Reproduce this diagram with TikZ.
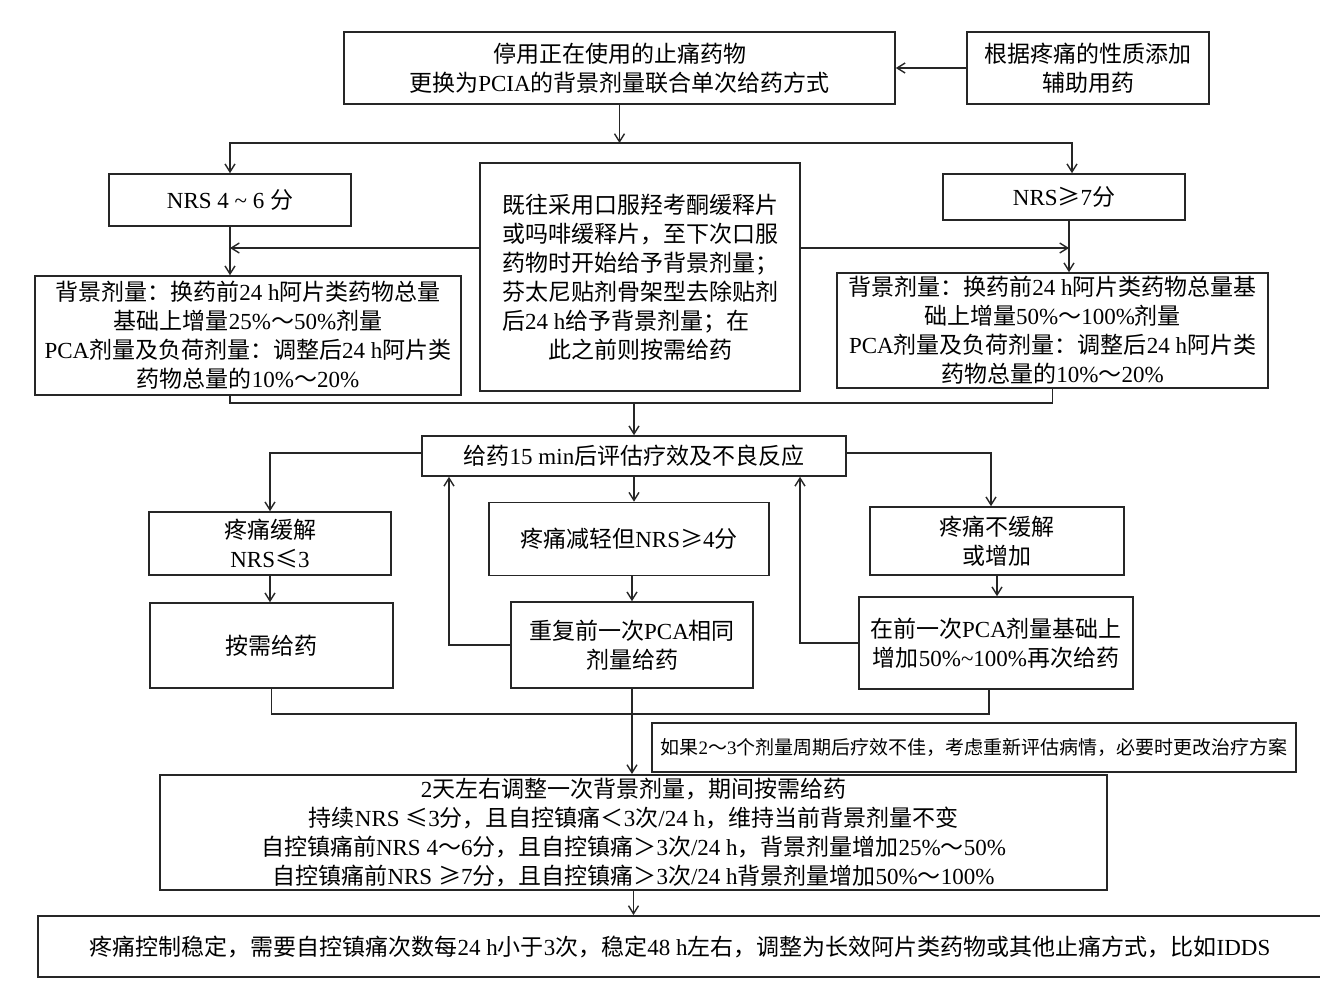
\documentclass[tikz,border=0pt]{standalone}
\usepackage{fontspec}
\setmainfont{Liberation Serif}
\newfontfamily\cjkfont{Noto Sans CJK SC}
\usetikzlibrary{arrows.meta}
\XeTeXinterchartokenstate=1
\newXeTeXintercharclass\CJKcls
\newcount\cccount
\def\setcjkrange#1#2{\cccount=#1\relax\loop\XeTeXcharclass\cccount=\CJKcls\relax\advance\cccount by 1\relax\ifnum\cccount<#2\relax\repeat}
\setcjkrange{"4E00}{"A000}
\setcjkrange{"3000}{"3040}
\setcjkrange{"FF00}{"FFF0}
\setcjkrange{"2264}{"2266}
\XeTeXinterchartoks 0 \CJKcls={\cjkfont}
\XeTeXinterchartoks 4095 \CJKcls={\cjkfont}
\XeTeXinterchartoks \CJKcls 0={\rmfamily}
\XeTeXinterchartoks 4095 0={\rmfamily}
\tikzset{
  every node/.style={font=\fontsize{11.5}{14.5}\selectfont},
  box/.style 2 args={draw=black!85, line width=0.8pt, minimum width=#1*0.5pt, minimum height=#2*0.5pt, inner sep=0pt, align=center},
  ln/.style={draw=black!85, line width=0.7pt},
  arr/.style={ln, -{Straight Barb[length=4pt,width=5pt]}},
}
\begin{document}
\begin{tikzpicture}[x=0.5pt,y=-0.5pt]
\fill[white] (0,0) rectangle (1320,1003);
\useasboundingbox (0,0) rectangle (1320,1003);

\node[box={551}{72}] (A) at (619.5,68) {停用正在使用的止痛药物\\更换为PCIA的背景剂量联合单次给药方式};
\node[box={242}{72}] (B) at (1088,68) {根据疼痛的性质添加\\辅助用药};
\node[box={242}{52}] (n46) at (230,200) {NRS 4 \textasciitilde\ 6 分};
\node[box={242}{46}] (n7) at (1064,197) {NRS≥7分};
\node[box={320}{228}, align=left] (C) at (640,277) {既往采用口服羟考酮缓释片\\或吗啡缓释片，至下次口服\\药物时开始给予背景剂量；\\芬太尼贴剂骨架型去除贴剂\\后24 h给予背景剂量；在\\\hspace*{2em}此之前则按需给药};
\node[box={426}{119}] (D) at (248,335.5) {背景剂量：换药前24 h阿片类药物总量\\基础上增量25\%～50\%剂量\\PCA剂量及负荷剂量：调整后24 h阿片类\\药物总量的10\%～20\%};
\node[box={431}{115}] (E) at (1052.5,330.5) {背景剂量：换药前24 h阿片类药物总量基\\础上增量50\%～100\%剂量\\PCA剂量及负荷剂量：调整后24 h阿片类\\药物总量的10\%～20\%};
\node[box={424}{40}] (F) at (634,456) {给药15 min后评估疗效及不良反应};
\node[box={242}{63}] (G) at (270,543.5) {疼痛缓解\\NRS≤3};
\node[box={243}{85}] (G2) at (271.5,645.5) {按需给药};
\node[box={280}{73}] (H) at (629,539) {疼痛减轻但NRS≥4分};
\node[box={242}{86}] (H2) at (632,645) {重复前一次PCA相同\\剂量给药};
\node[box={254}{68}] (I) at (997,541) {疼痛不缓解\\或增加};
\node[box={274}{92}] (I2) at (996,643) {在前一次PCA剂量基础上\\增加50\%\textasciitilde100\%再次给药};
\node[box={644}{49}, font=\fontsize{9.5}{12}\selectfont] (J) at (974,747.5) {如果2～3个剂量周期后疗效不佳，考虑重新评估病情，必要时更改治疗方案};
\node[box={947}{115}, line width=1pt] (K) at (633.5,832.5) {2天左右调整一次背景剂量，期间按需给药\\持续NRS ≤3分，且自控镇痛＜3次/24 h，维持当前背景剂量不变\\自控镇痛前NRS 4～6分，且自控镇痛＞3次/24 h，背景剂量增加25\%～50\%\\自控镇痛前NRS ≥7分，且自控镇痛＞3次/24 h背景剂量增加50\%～100\%};
\node[box={1284}{61}, line width=1pt] (L) at (680,946.5) {疼痛控制稳定，需要自控镇痛次数每24 h小于3次，稳定48 h左右，调整为长效阿片类药物或其他止痛方式，比如IDDS};

% top part
\coordinate (s1) at (619.5,143);
\coordinate (m46) at (230,248);
\coordinate (m7) at (1069,248);
\coordinate (j1) at (634,403);
\coordinate (j2) at (632,714);

\draw[arr] (B.west) -- (A.east);
\draw[arr] (A.south) -- (s1);
\draw[arr] (s1) -| (n46.north);
\draw[arr] (s1) -| ([xshift=4pt]n7.north);
\draw[arr] (n46.south) -- (n46.south |- D.north);
\draw[arr] ([xshift=2.5pt]n7.south) -- ([xshift=2.5pt]n7.south |- E.north);
\draw[arr] (C.west |- m46) -- (m46);
\draw[arr] (C.east |- m7) -- (m7);
\draw[ln] (n46.south |- D.south) |- (j1);
\draw[ln] (E.south) |- (j1);
\draw[arr] (j1) -- (F.north);

% evaluation part
\draw[arr] ([yshift=1.5pt]F.west) -| (G.north);
\draw[arr] ([yshift=1.5pt]F.east) -| ([xshift=-3pt]I.north);
\draw[arr] (F.south) -- (F.south |- H.north);
\draw[arr] (G.south) -- (G.south |- G2.north);
\draw[arr] (H2.north |- H.south) -- (H2.north);
\draw[arr] (I.south) -- (I.south |- I2.north);
\draw[arr] (H2.west) -| ([xshift=-92.5pt]F.south);
\draw[arr] (I2.west) -| ([xshift=83pt]F.south);
\draw[ln] (G2.south) |- ([xshift=-3.5pt]I2.south |- j2) -- ([xshift=-3.5pt]I2.south);
\draw[arr] (H2.south) -- (H2.south |- K.north);
\draw[arr] (K.south) -- (K.south |- L.north);
\end{tikzpicture}
\end{document}
